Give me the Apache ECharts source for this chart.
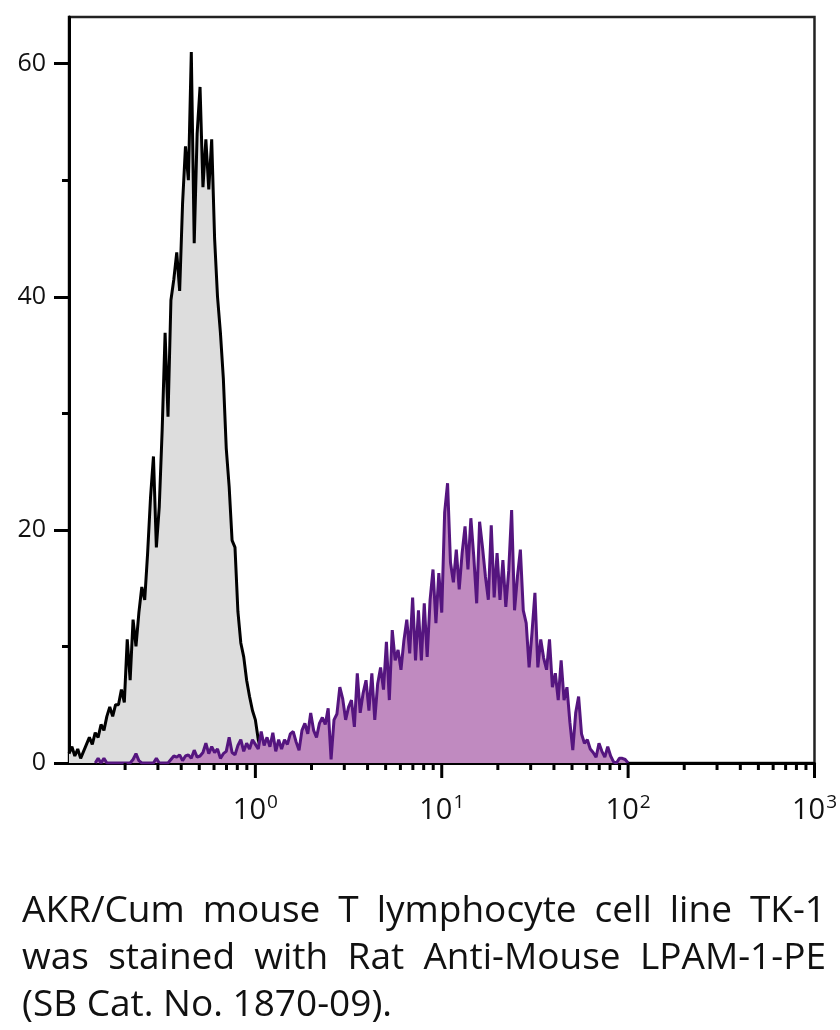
<!DOCTYPE html>
<html>
<head>
<meta charset="utf-8">
<script src="https://cdn.jsdelivr.net/npm/echarts@6.0.0/dist/echarts.min.js"></script>
<style>
  body { margin: 0; background: #fff; }
  #chart { position: absolute; left: 0; top: 0; width: 840px; height: 1030px; }
  #caption {
    position: absolute; left: 22px; top: 884px; width: 804px;
    font-family: "Open Sans", sans-serif; font-size: 37px; line-height: 47px; color: #111;
  }
  #caption div { white-space: nowrap; text-align: justify; text-align-last: justify; }
  #caption div.last { text-align-last: left; }
</style>
</head>
<body>
<div id="chart"></div>
<div id="caption">
  <div>AKR/Cum mouse T lymphocyte cell line TK-1</div>
  <div>was stained with Rat Anti-Mouse LPAM-1-PE</div>
  <div class="last">(SB Cat. No. 1870-09).</div>
</div>
<script>
// 256 channels over 4 decades (10^-1 .. 10^3)
const channels = 256;
const decades = 4;

// counts per channel, control (grey), from channel 0
const greyStart = 0;
const greyCounts = [
  0.8, 1.4, 0.6, 1.2, 0.4, 1.0, 1.6, 2.2, 1.6, 2.6,
  2.2, 3.3, 2.8, 4.0, 4.8, 4.0, 5.0, 5.0, 6.3, 5.2,
  10.6, 7.1, 12.3, 10.0, 12.9, 15.1, 14.0, 18.0, 22.8, 26.3,
  18.5, 22.0, 28.6, 36.9, 29.7, 39.7, 41.5, 43.8, 40.5, 48.0,
  52.9, 50.0, 61.0, 44.6, 54.0, 58.0, 49.4, 53.5, 49.2, 53.5,
  45.0, 40.0, 36.9, 33.0, 27.0, 23.7, 19.1, 18.5, 13.0, 10.3,
  9.1, 7.1, 5.7, 4.5, 3.7, 2.0, 1.0, 0.5, 0.3, 0
];

// counts per channel, LPAM-1-PE stained (purple), from channel 9
const purpleStart = 9;
const purpleCounts = [
  0, 0.4, 0, 0.4, 0, 0, 0, 0, 0, 0,
  0, 0, 0, 0.3, 0.8, 0.2, 0, 0, 0, 0,
  0, 0.4, 0, 0, 0, 0, 0.3, 0.6, 0.5, 0.7,
  0.2, 0.6, 0.7, 0.4, 1.1, 0.5, 0.6, 0.9, 1.7, 0.8,
  1.4, 0.9, 1.2, 0.4, 0.8, 1.0, 2.2, 0.9, 0.7, 1.5,
  2.0, 1.0, 1.7, 1.2, 2.0, 1.6, 1.2, 2.7, 1.5, 2.2,
  1.4, 2.6, 1.0, 2.0, 1.2, 2.0, 1.6, 2.5, 2.7, 1.8,
  1.1, 2.8, 3.4, 2.5, 4.3, 2.8, 2.2, 3.4, 3.9, 3.3,
  4.7, 0.3, 3.7, 4.2, 6.5, 5.5, 3.7, 4.8, 5.4, 3.1,
  7.7, 4.3, 6.0, 7.1, 4.5, 7.7, 3.7, 6.8, 8.2, 6.3,
  10.4, 5.4, 11.4, 8.8, 9.7, 8.0, 10.5, 12.3, 9.4, 14.2,
  8.8, 13.1, 8.8, 13.7, 9.1, 14.0, 16.6, 12.0, 16.3, 12.9,
  21.5, 24.0, 17.2, 15.5, 18.3, 14.9, 18.0, 20.3, 16.6, 21.0,
  17.7, 13.7, 20.7, 18.5, 16.0, 14.0, 20.4, 14.2, 18.0, 14.0,
  17.4, 13.4, 16.5, 21.7, 13.1, 16.0, 18.3, 13.1, 12.0, 8.2,
  11.2, 14.6, 8.2, 10.6, 9.0, 8.0, 10.6, 6.5, 7.7, 5.4,
  8.8, 5.4, 6.5, 3.5, 1.1, 4.3, 5.7, 2.5, 1.7, 2.0,
  1.2, 0.9, 0.5, 1.7, 1.0, 0.5, 1.4, 0.6, 0.1, 0,
  0.4, 0.4, 0.3, 0
];

const xMin = 0.1;
const xMax = 1000;
const decadeTicks = [1, 10, 100, 1000];
const minorTicks = [0.2, 0.3, 0.4, 0.5, 0.6, 0.7, 0.8, 0.9,
  2, 3, 4, 5, 6, 7, 8, 9,
  20, 30, 40, 50, 60, 70, 80, 90,
  200, 300, 400, 500, 600, 700, 800, 900];
const yTicks = [0, 20, 40, 60];
const yMinorTicks = [10, 30, 50];
const yMax = 64;

// channel number -> fluorescence value on the log scale
function channelValue(ch) {
  return xMin * Math.pow(10, ch * decades / channels);
}
function toPoints(start, counts) {
  return counts.map((c, i) => [channelValue(start + i), c]);
}

// label axis runs in log10 space so labels land on the same pixels as the log data axis
const logMin = Math.log10(xMin);
const logMax = Math.log10(xMax);
const decadeExp = decadeTicks.map((v) => Math.round(Math.log10(v)));

// x ticks hang below the axis line, placed through the log axis
function tickSeries(values, len) {
  return {
    type: 'custom',
    xAxisIndex: 0,
    yAxisIndex: 0,
    silent: true,
    clip: false,
    z: 10,
    data: values.map((v) => [v, 0]),
    renderItem: (params, api) => {
      const p = api.coord([api.value(0), 0]);
      return {
        type: 'line',
        shape: { x1: p[0], y1: p[1], x2: p[0], y2: p[1] + len },
        style: { stroke: '#000', lineWidth: 3 }
      };
    }
  };
}

const chart = echarts.init(document.getElementById('chart'));

const option = {
  animation: false,
  grid: { left: 69, right: 23, top: 17, bottom: 267, show: true, borderColor: '#222', borderWidth: 2.5 },
  xAxis: [{
    // data axis
    type: 'log', logBase: 10, min: xMin, max: xMax, show: false
  }, {
    type: 'value', min: logMin, max: logMax, position: 'bottom',
    splitLine: { show: false },
    axisLine: { onZero: false, lineStyle: { color: '#000', width: 3 } },
    axisTick: { show: false },
    axisLabel: {
      customValues: decadeExp, margin: 30,
      formatter: (v) => '{b|10}{sup|' + v + '}',
      rich: {
        b: { fontFamily: 'Open Sans', fontSize: 29, color: '#111', lineHeight: 32, verticalAlign: 'bottom' },
        sup: { fontFamily: 'Open Sans', fontSize: 19, color: '#111', lineHeight: 20, verticalAlign: 'top', padding: [0, 0, 0, 1] }
      }
    }
  }],
  yAxis: [{
    type: 'value', min: 0, max: yMax, position: 'left',
    splitLine: { show: false },
    axisLine: { show: true, onZero: false, lineStyle: { color: '#000', width: 3 } },
    axisTick: { show: true, customValues: yTicks, length: 15, lineStyle: { color: '#000', width: 3 } },
    axisLabel: { customValues: yTicks, margin: 23, fontFamily: 'Open Sans', fontSize: 25, color: '#111' }
  }, {
    type: 'value', min: 0, max: yMax, position: 'left',
    splitLine: { show: false },
    axisLine: { show: false, onZero: false },
    axisTick: { show: true, customValues: yMinorTicks, length: 7, lineStyle: { color: '#000', width: 3 } },
    axisLabel: { show: false }
  }],
  series: [{
    name: 'Control',
    type: 'line',
    xAxisIndex: 0,
    yAxisIndex: 0,
    data: toPoints(greyStart, greyCounts),
    showSymbol: false,
    lineStyle: { color: '#000', width: 3 },
    areaStyle: { color: '#dddddd', opacity: 1, origin: 'start' },
    z: 2
  }, {
    name: 'LPAM-1-PE',
    type: 'line',
    xAxisIndex: 0,
    yAxisIndex: 0,
    data: toPoints(purpleStart, purpleCounts),
    showSymbol: false,
    lineStyle: { color: '#55157f', width: 3 },
    areaStyle: { color: '#c08ac0', opacity: 1, origin: 'start' },
    z: 3
  },
  tickSeries(decadeTicks, 15),
  tickSeries(minorTicks, 7)]
};

chart.setOption(option);
</script>
</body>
</html>
